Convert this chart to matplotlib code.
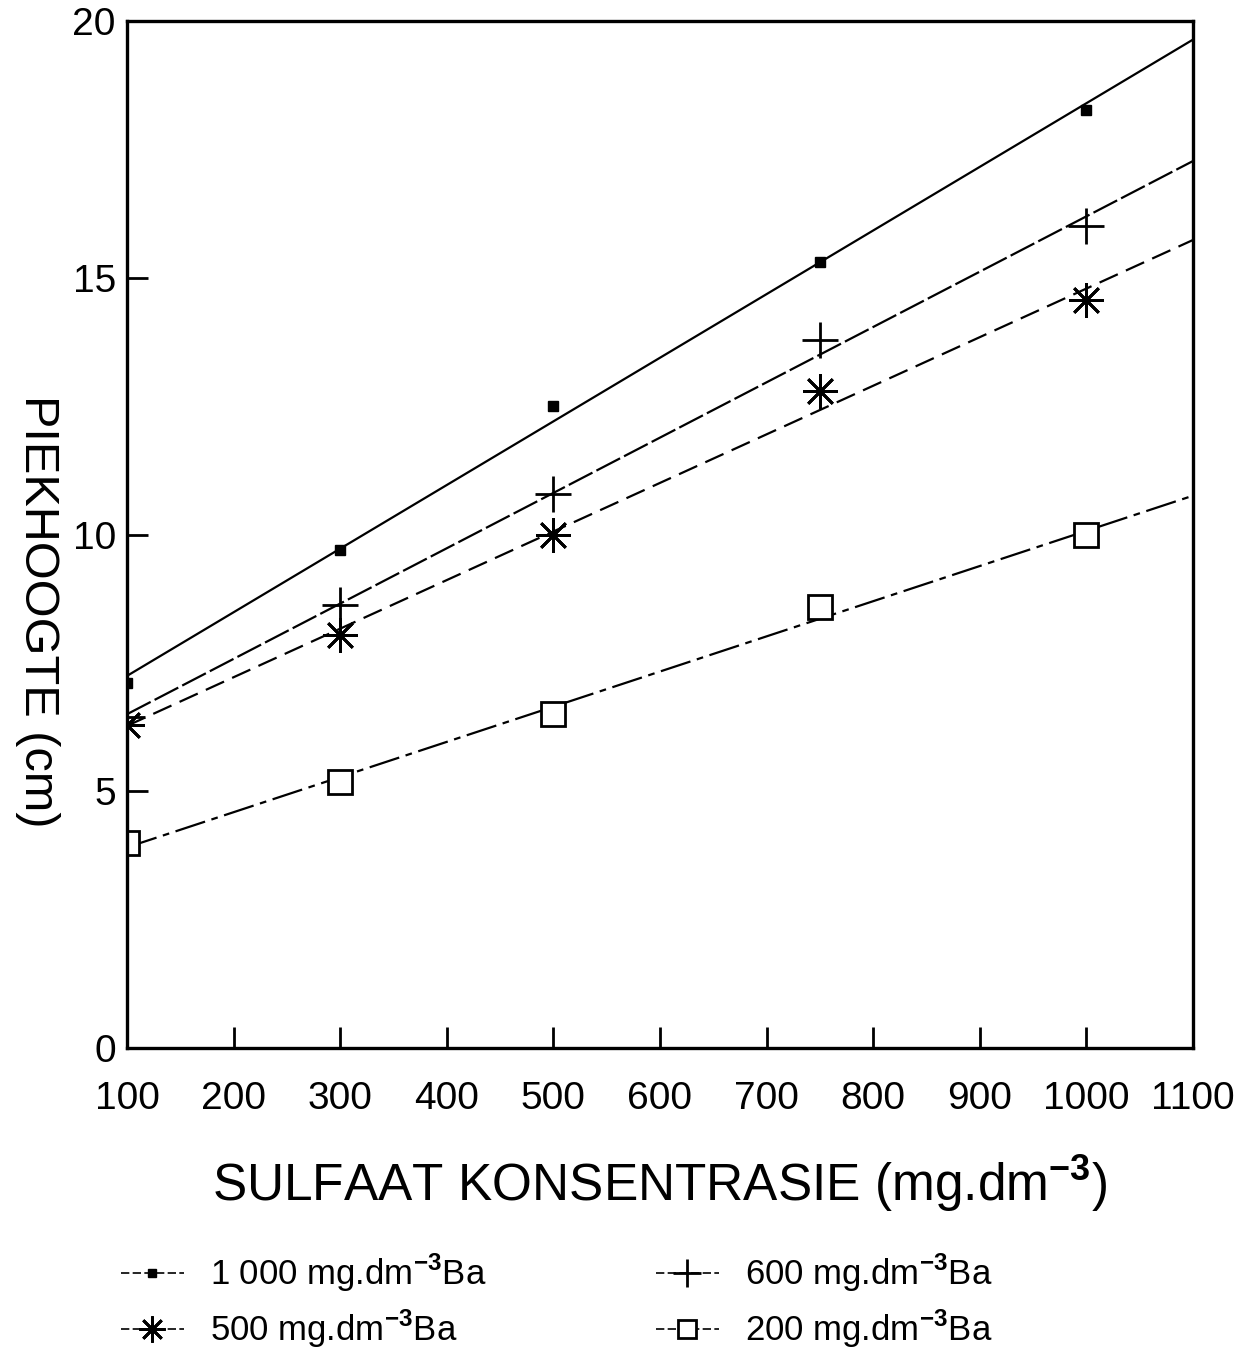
import numpy as np
import matplotlib
matplotlib.use("Agg")
import matplotlib.pyplot as plt
from matplotlib.lines import Line2D

plt.rcParams['font.family'] = ['Liberation Sans Narrow', 'Liberation Sans', 'DejaVu Sans']
plt.rcParams['mathtext.fontset'] = 'custom'
plt.rcParams['mathtext.rm'] = 'Liberation Sans'
plt.rcParams['mathtext.bf'] = 'Liberation Sans:bold'

# sulfaat konsentrasie (mg.dm-3)
sulfaat = [100, 300, 500, 750, 1000]

# piekhoogte (cm) per Ba-konsentrasie
ba_1000 = [7.1, 9.7, 12.5, 15.3, 18.27]
ba_600 = [6.45, 8.63, 10.79, 13.79, 16.0]
ba_500 = [6.3, 8.04, 10.0, 12.8, 14.57]
ba_200 = [4.0, 5.18, 6.5, 8.59, 9.99]

labels = ["1 000", "600", "500", "200"]

fig = plt.figure(figsize=(12.4, 13.53), dpi=100)
ax = fig.add_axes([0.1024, 0.2254, 0.8596, 0.7591])

reeks = [
    (ba_1000, dict(marker='s', ms=7, mfc='black'), '-'),
    (ba_600, dict(marker='+', ms=26, mew=2), (0, (12, 2))),
    (ba_500, dict(marker=(8, 2, 0), ms=25, mew=2), (0, (9, 4))),
    (ba_200, dict(marker='s', ms=17, mfc='white', mew=2), (0, (14, 3, 3, 3))),
]

x_lyn = np.array([100, 1100])
handles = []
for data, mstyle, ls in reeks:
    # gepaste reguitlyn deur die datapunte
    k, c = np.polyfit(sulfaat, data, 1)
    ax.plot(x_lyn, k * x_lyn + c, color='black', lw=1.6, ls=ls)
    ax.plot(sulfaat, data, ls='none', color='black', **mstyle)
    legstyle = dict(mstyle)
    legstyle['ms'] = legstyle['ms'] * 0.75
    handles.append(Line2D([], [], color='black', lw=1.2, ls=(0, (5, 2)), **legstyle))

ax.set_xlim(100, 1100)
ax.set_ylim(0, 20)
ax.set_xticks(np.arange(100, 1101, 100))
ax.set_yticks([0, 5, 10, 15, 20])
ax.tick_params(direction='in', length=15, width=2, labelsize=28, pad=8)
ax.tick_params(axis='x', pad=24)
for s in ax.spines.values():
    s.set_linewidth(2.4)

ax.set_xlabel(r"SULFAAT KONSENTRASIE (mg.dm$^{\mathbf{-3}}$)", fontsize=37, labelpad=26)
fig.text(0.030, 0.548, "PIEKHOOGTE (cm)", rotation=270, fontsize=35,
         ha='center', va='center')

leg_labels = [f"{n} mg.dm$^{{\\mathbf{{-3}}}}$Ba" for n in labels]
order = [0, 2, 1, 3]
fig.legend([handles[i] for i in order], [leg_labels[i] for i in order],
           loc='lower left', bbox_to_anchor=(0.078, -0.016), ncol=2, frameon=False,
           fontsize=25, handlelength=1.8, columnspacing=4.9, labelspacing=0.4,
           handletextpad=0.75, borderpad=0.2)

fig.savefig("out.png", dpi=100)
